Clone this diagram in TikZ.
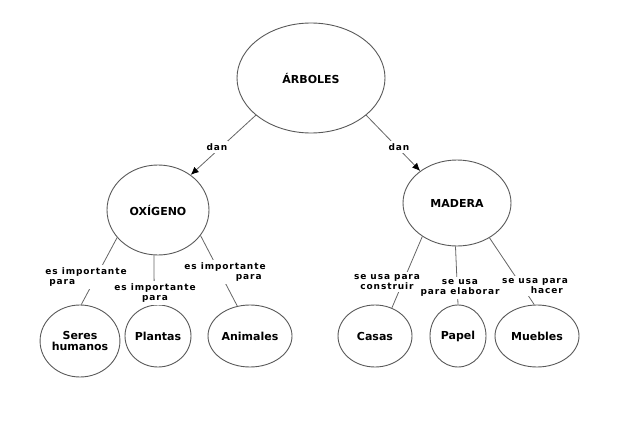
\documentclass[tikz,border=0pt]{standalone}
\usepackage{fontspec}
\setmainfont{DejaVu Sans}
\newfontfamily\linkfam{DejaVu Sans}[LetterSpace=10]
\usepackage{tikz}
\usetikzlibrary{shapes,arrows.meta,positioning}

\tikzset{
  concept/.style={ellipse, draw=black!65, line width=0.9pt, inner sep=0pt,
    align=center, font=\bfseries\fontsize{11}{10.5}\selectfont},
  linkword/.style={fill=white, inner xsep=0.5pt, inner ysep=2.5pt, align=center,
    font=\linkfam\bfseries\fontsize{9}{10}\selectfont},
  conn/.style={draw=black!60, line width=0.8pt},
  arr/.style={conn, -{Latex[length=8pt,width=7pt,color=black]}}
}

\begin{document}
\begin{tikzpicture}[x=1pt,y=-1pt]
    \useasboundingbox (0,0) rectangle (618,425);

    % Concepts
    \node[concept, minimum width=148pt, minimum height=110pt] (arboles) at (311,78) {ÁRBOLES};
    \node[concept, minimum width=102pt, minimum height=90pt] (oxigeno) at (158,210) {OXÍGENO};
    \node[concept, minimum width=108pt, minimum height=86pt] (madera) at (457,203) {MADERA};

    \node[concept, minimum width=74pt, minimum height=72pt] (seres) at (80,341) {Seres\\humanos};
    \node[concept, minimum width=66pt, minimum height=62pt] (plantas) at (158,336) {Plantas};
    \node[concept, minimum width=84pt, minimum height=62pt] (animales) at (250,336) {Animales};

    \node[concept, minimum width=74pt, minimum height=62pt] (casas) at (375,336) {Casas};
    \node[concept, minimum width=56pt, minimum height=62pt] (papel) at (458,336) {Papel};
    \node[concept, minimum width=84pt, minimum height=62pt] (muebles) at (537,336) {Muebles};

    % Connectors
    \draw[arr] (arboles.214) -- (oxigeno.47);
    \draw[arr] (arboles.326) -- (madera.139);

    \draw[conn] (oxigeno.214) -- (seres.88);
    \draw[conn] (oxigeno.265) -- (plantas.97);
    \draw[conn] (oxigeno.329) -- (animales.113);

    \draw[conn] (madera.224) -- (casas.59);
    \draw[conn] (madera.268) -- (papel.90);
    \draw[conn] (madera.313) -- (muebles.95);

    % Linking words
    \node[linkword] (dan1) at (217,147) {dan};
    \node[linkword] (dan2) at (399,147) {dan};

    \node[linkword, align=right] (imp3) at (225,272) {es importante\\para\hspace*{4pt}};
    \node[linkword, align=left] (imp1) at (86,277) {es importante\\\hspace*{4pt}para};
    \node[linkword] (imp2) at (155,293) {es importante\\para};

    \node[linkword] (usa2) at (460,288) {se usa\\para elaborar};
    \node[linkword] (usa1) at (387,282) {se usa para\\construir};
    \node[linkword, align=right] (usa3) at (535,286) {se usa para\\hacer\hspace*{5pt}};
\end{tikzpicture}
\end{document}
